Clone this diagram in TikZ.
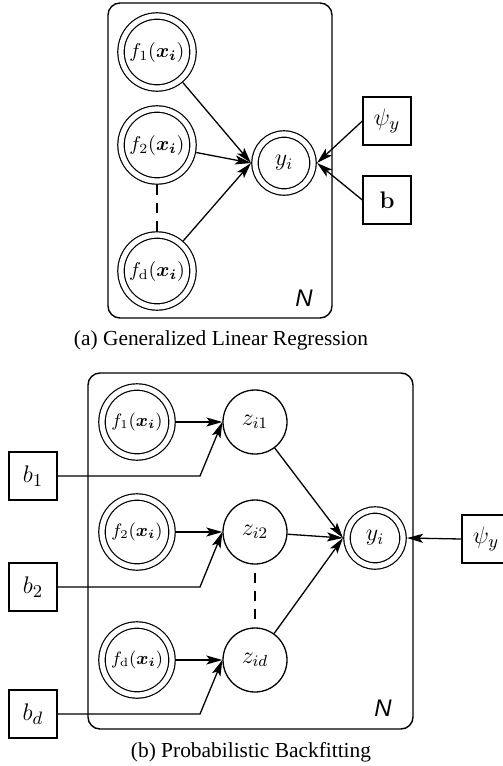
\documentclass[tikz,border=0pt]{standalone}
\usepackage{amsmath}
\usepackage{bm}
\usepackage[no-math]{fontspec}
\setmainfont{Liberation Serif}
\setsansfont{Liberation Sans}
\usetikzlibrary{arrows.meta}
\begin{document}
\begin{tikzpicture}[x=0.5pt,y=-0.5pt,
  every path/.style={line width=0.65pt},
  dbl/.style={circle, draw, double, double distance=2.6pt, line width=0.6pt, inner sep=0pt, outer sep=2pt},
  fa/.style={dbl, minimum size=36pt},
  fb/.style={dbl, minimum size=35pt, font=\fontsize{8.7}{10}\selectfont},
  ya/.style={dbl, minimum size=29pt, font=\fontsize{12}{14}\selectfont},
  yb/.style={dbl, minimum size=28pt, font=\fontsize{12}{14}\selectfont},
  zn/.style={circle, draw, line width=0.65pt, inner sep=0pt, minimum size=32pt, font=\fontsize{11.5}{13}\selectfont},
  sq/.style={rectangle, draw, line width=0.65pt, inner sep=0pt, minimum size=24pt, font=\fontsize{12.5}{14}\selectfont},
  plate/.style={draw, line width=0.7pt, rounded corners=6pt},
  arr/.style={-{Stealth[length=8pt,width=4.5pt,inset=1.8pt]}, line width=0.65pt},
  dsh/.style={dashed, dash pattern=on 5pt off 4pt, line width=0.65pt},
  plabel/.style={font=\fontsize{12}{14}\selectfont\sffamily\itshape},
  captxt/.style={font=\fontsize{10.7}{12}\selectfont}
]
\useasboundingbox (0,0) rectangle (503,766);

% ---------- (a) ----------
\draw[plate] (108,3) rectangle (332,318);
\node[fa] (f1a) at (157,52) {$f_1(\bm{x_i})$};
\node[fa] (f2a) at (157,145) {$f_2(\bm{x_i})$};
\node[fa] (fda) at (157,271) {$f_{\mathrm{d}}(\bm{x_i})$};
\node[ya] (ya) at (284,163) {$y_i$};
\node[sq] (psia) at (387,121) {$\psi_y$};
\node[sq] (ba) at (387,200) {$\mathbf{b}$};
\node[plabel] (Na) at (304,298) {N};
\node[captxt] (capa) at (221,340) {(a) Generalized Linear Regression};

\draw[arr] (f1a) -- (ya.west);
\draw[arr] (f2a) -- (ya.west);
\draw[arr] (fda) -- (ya.west);
\draw[arr] (psia.west) -- (ya.east);
\draw[arr] (ba.west) -- (ya.east);
\draw[dsh] (f2a.south) -- (fda.north);

% ---------- (b) ----------
\draw[plate] (88,373) rectangle (413,729);
\node[fb] (f1b) at (137,422) {$f_1(\bm{x_i})$};
\node[fb] (f2b) at (137,532) {$f_2(\bm{x_i})$};
\node[fb] (fdb) at (137,660) {$f_{\mathrm{d}}(\bm{x_i})$};
\node[zn] (z1) at (255,422) {$z_{i1}$};
\node[zn] (z2) at (255,532) {$z_{i2}$};
\node[zn] (zd) at (255,660) {$z_{id}$};
\node[yb] (yb) at (375,538) {$y_i$};
\node[sq] (psib) at (486,539) {$\psi_y$};
\node[sq] (b1) at (33,476) {$b_1$};
\node[sq] (b2) at (33,587) {$b_2$};
\node[sq] (bd) at (33,714) {$b_d$};
\coordinate (c1) at (200,476);
\coordinate (c2) at (200,587);
\coordinate (cd) at (200,714);
\node[plabel] (Nb) at (383,708) {N};
\node[captxt] (capb) at (251,752) {(b) Probabilistic Backfitting};

\draw[arr] (f1b) -- (z1.west);
\draw[arr] (f2b) -- (z2.west);
\draw[arr] (fdb) -- (zd.west);
\draw[arr] (b1.east) -- (c1) -- (z1.west);
\draw[arr] (b2.east) -- (c2) -- (z2.west);
\draw[arr] (bd.east) -- (cd) -- (zd.west);
\draw[arr] (z1) -- (yb.west);
\draw[arr] (z2) -- (yb.west);
\draw[arr] (zd) -- (yb.west);
\draw[arr] (psib.west) -- (yb.east);
\draw[dsh] ([yshift=-4pt]z2.south) -- ([yshift=4pt]zd.north);
\end{tikzpicture}
\end{document}
